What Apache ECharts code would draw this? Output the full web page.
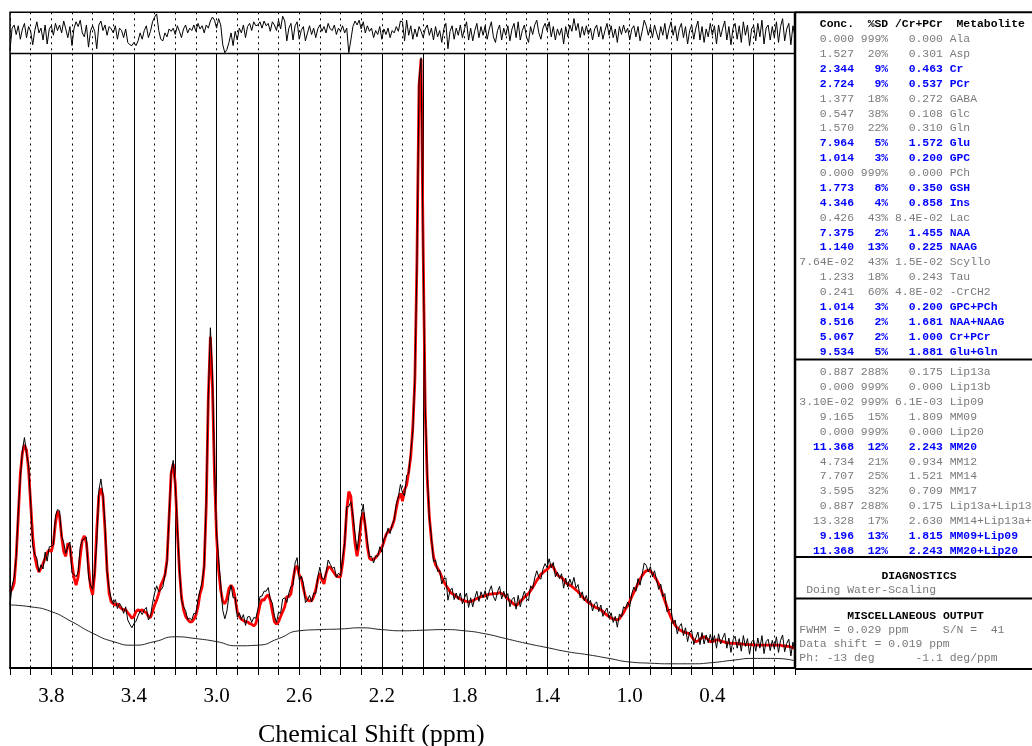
<!DOCTYPE html>
<html>
<head>
<meta charset="utf-8">
<script src="https://cdn.jsdelivr.net/npm/echarts/dist/echarts.min.js"></script>
<style>
html,body{margin:0;padding:0;background:#fff;}
#chart{width:1032px;height:746px;}
</style>
</head>
<body>
<div id="chart"></div>
<script>
// ---- spectrum sampling: 4.00 ppm down to 0.20 ppm in 0.01 ppm steps ----
const ppmHigh = 4.0;
const ppmStep = 0.01;

// LCModel fit (red), one value per 0.01 ppm
const fitValues = [
  12.7, 13.1, 14.1, 18.6, 25.2, 32.4, 35.8, 37.2, 36.3, 33.0,
  27.4, 21.9, 18.6, 16.9, 16.0, 16.6, 17.4, 18.3, 19.2, 19.7,
  19.4, 20.8, 24.1, 26.1, 25.2, 21.9, 19.4, 18.6, 20.8, 20.2,
  17.4, 15.0, 13.8, 15.2, 18.6, 21.3, 22.0, 20.8, 16.9, 13.5,
  12.2, 15.8, 23.0, 28.6, 30.0, 28.6, 23.0, 16.3, 12.4, 11.0,
  10.7, 10.5, 10.7, 10.2, 9.9, 9.7, 9.7, 9.2, 8.8, 8.3,
  8.6, 9.4, 9.7, 9.5, 9.7, 9.4, 9.2, 8.6, 8.4, 9.4,
  10.5, 11.3, 12.4, 13.8, 14.5, 15.5, 18.0, 25.0, 32.4, 34.0,
  30.8, 23.0, 16.3, 11.9, 9.7, 8.6, 8.1, 7.7, 7.7, 8.1,
  8.8, 10.2, 12.4, 13.5, 17.0, 27.0, 45.0, 55.2, 47.0, 32.0,
  21.9, 16.3, 13.0, 11.1, 10.7, 11.6, 13.3, 13.8, 13.3, 11.6,
  9.4, 8.6, 8.1, 7.9, 7.7, 7.7, 7.4, 7.3, 7.0, 7.4,
  8.8, 10.5, 11.4, 11.3, 11.9, 12.2, 11.3, 9.4, 7.7, 7.3,
  7.7, 8.6, 9.4, 10.2, 11.9, 11.9, 12.4, 14.7, 16.6, 17.0,
  15.5, 15.0, 13.3, 11.9, 11.3, 11.2, 11.2, 11.9, 13.0, 14.7,
  15.8, 14.7, 14.0, 15.8, 16.8, 16.8, 16.3, 15.8, 15.3, 15.2,
  15.2, 17.4, 20.8, 26.3, 29.4, 28.6, 24.7, 20.8, 18.6, 20.8,
  24.7, 25.9, 23.6, 20.2, 18.3, 18.0, 18.1, 18.4, 18.8, 19.4,
  20.1, 21.0, 22.2, 22.7, 23.0, 23.6, 24.7, 26.6, 28.3, 29.1,
  27.8, 29.7, 30.5, 32.7, 35.2, 40.2, 48.0, 68.0, 97.0, 101.5,
  70.0, 43.0, 31.3, 25.2, 21.3, 18.6, 17.2, 16.6, 16.0, 15.2,
  14.4, 13.8, 13.3, 12.7, 12.4, 12.2, 11.9, 11.7, 11.5, 11.3,
  11.2, 11.1, 11.0, 11.1, 11.2, 11.4, 11.6, 11.7, 11.9, 12.0,
  12.0, 12.2, 12.3, 12.3, 12.4, 12.4, 12.4, 12.6, 12.4, 12.2,
  11.9, 11.5, 11.2, 10.9, 10.6, 10.4, 10.7, 11.1, 11.4, 11.8,
  12.1, 12.4, 12.9, 13.4, 14.0, 14.6, 15.1, 15.6, 15.9, 16.2,
  16.4, 16.8, 17.2, 16.8, 16.1, 15.5, 15.2, 15.1, 14.7, 14.2,
  14.0, 13.8, 13.6, 13.3, 13.0, 12.7, 12.3, 11.9, 11.5, 11.2,
  10.9, 10.7, 10.4, 10.2, 10.0, 9.9, 9.7, 9.4, 9.1, 8.8,
  8.6, 8.3, 8.2, 8.1, 8.0, 8.2, 8.7, 9.2, 9.9, 10.4,
  11.1, 11.9, 12.6, 13.3, 14.1, 14.8, 15.4, 15.9, 16.2, 16.3,
  16.1, 15.8, 15.2, 14.7, 14.0, 13.2, 12.2, 11.2, 10.2, 9.2,
  8.4, 7.7, 7.1, 6.7, 6.4, 6.2, 6.0, 5.9, 5.8, 5.7,
  5.2, 4.7, 4.4, 4.5, 4.8, 5.1, 5.2, 5.0, 4.7, 4.4,
  4.4, 4.5, 4.7, 4.7, 4.5, 4.4, 4.3, 4.2, 4.2, 4.1,
  4.1, 4.1, 4.1, 4.0, 4.0, 4.0, 3.9, 3.9, 3.9, 3.9,
  3.8, 3.8, 3.8, 3.8, 3.8, 3.8, 3.8, 3.8, 3.8, 3.8,
  3.8, 3.8, 3.8, 3.8, 3.7, 3.7, 3.6, 3.6, 3.5, 3.4,
  3.3
];

// residual (data - fit), same sampling
const residValues = [
  -2.2, 0.6, 1.0, -0.2, 0.9, -0.8, 0.5, 1.2, -0.6, 0.8,
  0.2, -1.5, 0.3, 1.4, 0.0, 0.6, -0.9, 1.0, -1.4, 0.5,
  0.9, -0.3, 1.2, 0.3, 1.0, 0.0, 1.5, 0.5, -0.6, 0.8,
  -1.6, 0.6, 1.4, 0.8, 1.6, 0.0, -0.5, 1.0, -1.8, 0.3,
  0.9, 0.2, -2.0, 1.0, 1.5, 0.3, 1.0, -0.3, 0.8, 0.5,
  0.0, 0.9, -0.8, 0.6, 0.3, -0.6, 0.5, -1.2, -1.5, -1.6,
  -1.2, -1.6, -1.0, 0.0, -0.8, 0.3, 0.9, -0.6, 0.2, 1.4,
  2.0, 2.4, 0.3, -0.8, -1.0, 0.0, -0.5, 0.5, 0.2, 0.6,
  -0.2, 0.9, 0.2, -0.6, 0.5, 1.0, 0.0, 0.6, 0.3, 1.0,
  0.2, 1.2, 0.5, 0.9, 0.0, 1.0, 0.6, 1.5, 2.0, 1.6,
  0.6, 1.8, 1.0, -1.5, -2.5, -2.1, -1.2, 0.0, -1.6, 0.2,
  -0.9, 0.6, 0.0, 1.0, -0.6, 0.8, 1.2, 0.3, 1.4, 0.9,
  1.0, 1.4, 0.6, 1.5, 0.9, 1.2, 0.2, 1.4, 1.0, 0.3,
  1.6, 0.5, 2.1, 1.5, -1.0, 0.6, 1.2, -0.9, 0.9, 1.4,
  -0.8, 0.3, 0.8, -1.0, 0.0, 0.9, -0.2, 0.6, -0.6, 0.5,
  1.0, 0.2, 0.8, 0.0, 1.2, 0.5, 0.3, 1.0, -0.2, 0.6,
  0.2, 0.9, 0.0, 0.6, -2.5, -0.9, 0.8, 1.5, 1.0, 1.6,
  0.5, 1.4, 0.0, 0.9, 0.2, 0.6, -0.6, 0.3, -0.2, 0.8,
  -0.8, 0.5, -0.2, 0.6, -0.6, 0.3, 0.0, 0.8, 0.2, 1.5,
  1.4, -1.0, 1.6, -0.3, 0.9, -0.8, 0.5, -0.5, 0.8, 0.2,
  -0.6, 0.5, 1.0, -0.3, 0.6, -0.9, 0.8, -0.5, 0.3, -1.2,
  0.5, 1.2, -2.0, 0.2, 0.9, -0.8, 0.6, -0.3, 1.0, -0.6,
  0.5, 1.4, -0.9, 0.6, -1.0, 0.3, 1.2, -0.6, 0.8, -0.3,
  0.9, -0.8, 0.5, 1.4, -0.5, -1.2, 0.3, 1.0, -0.9, 0.6,
  -0.3, 0.9, -1.0, 0.5, 1.2, -0.6, 1.4, -0.9, 0.3, 1.0,
  -0.5, -1.2, 0.8, -0.2, 1.0, 1.6, 0.0, -0.8, 0.6, 1.2,
  0.3, 1.4, -0.5, 0.8, -0.9, 0.5, -0.3, 0.6, -1.4, 0.8,
  -0.5, 1.0, 0.2, 1.8, 0.3, 1.2, -0.6, 0.8, -0.3, 0.9,
  -0.2, 0.6, -0.9, 0.5, 1.0, -0.5, 0.8, -0.8, 0.3, 1.2,
  -0.3, 0.9, -0.6, 0.5, -1.2, 0.8, -0.2, 1.0, 0.0, 0.6,
  -0.9, 0.5, 0.9, -0.5, 0.8, -1.0, 0.2, 1.6, 0.9, -0.3,
  0.8, -0.6, 1.0, 0.0, -0.9, 0.8, -0.3, 1.2, -0.8, 0.5,
  1.4, -0.3, 0.9, -1.0, 0.5, 1.2, -0.6, 0.8, -1.4, 0.3,
  1.0, -0.8, 0.6, 1.5, -0.9, 0.8, -1.2, 0.5, -0.5, 1.2,
  -0.3, 0.9, -1.4, 1.0, -0.5, 0.6, 1.5, -0.9, 0.8, -1.5,
  0.6, 1.2, -0.8, 0.9, -1.2, 1.4, -0.3, 1.0, -1.6, 0.5,
  0.9, -1.0, 1.2, -0.5, 1.6, -1.4, 0.6, 1.0, -0.9, 0.8,
  -0.6, 1.4, -1.2, 0.8, 1.8, -1.0, 0.5, 1.2, -1.5, 0.9,
  -0.5
];

// smooth spline baseline, every 0.1 ppm
const baselinePpm = [4.0, 3.9, 3.8, 3.7, 3.6, 3.5, 3.4, 3.3, 3.2, 3.1, 3.0, 2.9, 2.8, 2.7, 2.6, 2.5, 2.4, 2.3, 2.2, 2.1,
                     2.0, 1.9, 1.8, 1.7, 1.6, 1.5, 1.4, 1.3, 1.2, 1.1, 1.0, 0.9, 0.8, 0.7, 0.6, 0.5, 0.4, 0.3, 0.2];
const baselineValues = [10.5, 10.2, 9.4, 7.7, 5.8, 4.4, 3.8, 4.4, 5.2, 4.9, 4.4, 3.7, 3.8, 4.9, 6.2, 6.4, 6.5, 6.7, 6.4, 6.2,
                        6.3, 6.4, 6.2, 5.7, 4.9, 4.1, 3.4, 2.7, 2.2, 1.6, 1.0, 0.8, 0.7, 0.7, 0.9, 1.3, 1.6, 1.6, 1.2];

// x axis tick labels
const tickValues = [3.8, 3.4, 3.0, 2.6, 2.2, 1.8, 1.4, 1.0, 0.6];
const tickTexts  = ['3.8', '3.4', '3.0', '2.6', '2.2', '1.8', '1.4', '1.0', '0.4'];

// ---- concentration table ----
const metNames = ['Ala','Asp','Cr','PCr','GABA','Glc','Gln','Glu','GPC','PCh','GSH','Ins','Lac','NAA','NAAG','Scyllo','Tau','-CrCH2','GPC+PCh','NAA+NAAG','Cr+PCr','Glu+Gln'];
const metConc  = ['0.000','1.527','2.344','2.724','1.377','0.547','1.570','7.964','1.014','0.000','1.773','4.346','0.426','7.375','1.140','7.64E-02','1.233','0.241','1.014','8.516','5.067','9.534'];
const metSD    = ['999%','20%','9%','9%','18%','38%','22%','5%','3%','999%','8%','4%','43%','2%','13%','43%','18%','60%','3%','2%','2%','5%'];
const metRatio = ['0.000','0.301','0.463','0.537','0.272','0.108','0.310','1.572','0.200','0.000','0.350','0.858','8.4E-02','1.455','0.225','1.5E-02','0.243','4.8E-02','0.200','1.681','1.000','1.881'];
const metBlue  = ['Cr','PCr','Glu','GPC','GSH','Ins','NAA','NAAG','GPC+PCh','NAA+NAAG','Cr+PCr','Glu+Gln'];

const lipNames = ['Lip13a','Lip13b','Lip09','MM09','Lip20','MM20','MM12','MM14','MM17','Lip13a+Lip13b','MM14+Lip13a+Lip13b','MM09+Lip09','MM20+Lip20'];
const lipConc  = ['0.887','0.000','3.10E-02','9.165','0.000','11.368','4.734','7.707','3.595','0.887','13.328','9.196','11.368'];
const lipSD    = ['288%','999%','999%','15%','999%','12%','21%','25%','32%','288%','17%','13%','12%'];
const lipRatio = ['0.175','0.000','6.1E-03','1.809','0.000','2.243','0.934','1.521','0.709','0.175','2.630','1.815','2.243'];
const lipBlue  = ['MM20','MM09+Lip09','MM20+Lip20'];

const tableHeader = '   Conc.  %SD /Cr+PCr  Metabolite';
const diagLines = ['Doing Water-Scaling'];
const miscLines = ['FWHM = 0.029 ppm     S/N =  41', 'Data shift = 0.019 ppm', 'Ph: -13 deg      -1.1 deg/ppm'];

// ---- build series data ----
const ppmAt = i => Math.round((ppmHigh - ppmStep * i) * 100) / 100;
const fitData = fitValues.map((v, i) => [ppmAt(i), v]);
const specData = fitValues.map((v, i) => [ppmAt(i), Math.round((v + residValues[i]) * 100) / 100]);
const residData = residValues.map((v, i) => [ppmAt(i), v]);
const baseData = baselinePpm.map((p, i) => [p, baselineValues[i]]);

// ---- layout ----
const L = 10, R = 795, TOP = 12.3, MID = 53.5, AXIS = 668;
const MONO = "'Liberation Mono','Courier New',monospace";
const SERIF = "'Liberation Serif','Times New Roman',serif";
const FS = 11.4;
const TX = 799.3;              // first column of the table
const GRAY = '#7a7a7a', BLUE = '#0000ff';

const pad = (s, n) => (' '.repeat(n) + s).slice(-Math.max(n, s.length));
const row = (c, sd, r, name) => pad(c, 8) + ' ' + pad(sd, 4) + ' ' + pad(r, 7) + ' ' + name;

function textEl(str, x, y, bold, color) {
  return {
    type: 'text', z: 100, silent: true,
    style: {
      text: str, x: x, y: y,
      font: (bold ? 'bold ' : '') + FS + 'px ' + MONO,
      fill: color, textVerticalAlign: 'middle', verticalAlign: 'middle'
    }
  };
}
function lineEl(x1, y1, x2, y2, w) {
  return { type: 'line', z: 90, silent: true,
    shape: { x1: x1, y1: y1, x2: x2, y2: y2 },
    style: { stroke: '#000', lineWidth: w } };
}

const graphics = [];
// frames
graphics.push({ type: 'rect', z: 90, silent: true, shape: { x: L, y: TOP, width: R - L, height: AXIS - TOP },
  style: { fill: 'none', stroke: '#000', lineWidth: 1.5 } });
graphics.push(lineEl(L, MID, R, MID, 1.5));
graphics.push(lineEl(R, TOP, 1032, TOP, 2));
graphics.push(lineEl(R, TOP, R, 669, 2.5));
graphics.push(lineEl(R, 359.5, 1032, 359.5, 2));
graphics.push(lineEl(R, 557, 1032, 557, 2));
graphics.push(lineEl(R, 598.5, 1032, 598.5, 2));
graphics.push(lineEl(R, 669, 1032, 669, 2));

// table text
const cw = FS * 0.6;
graphics.push(textEl(tableHeader, TX, 24.3, true, '#000'));
metNames.forEach((n, k) => {
  const blue = metBlue.indexOf(n) >= 0;
  graphics.push(textEl(row(metConc[k], metSD[k], metRatio[k], n), TX, 39.2 + 14.88 * k, blue, blue ? BLUE : GRAY));
});
lipNames.forEach((n, k) => {
  const blue = lipBlue.indexOf(n) >= 0;
  graphics.push(textEl(row(lipConc[k], lipSD[k], lipRatio[k], n), TX, 372.3 + 14.87 * k, blue, blue ? BLUE : GRAY));
});
graphics.push(textEl('DIAGNOSTICS', TX + 12 * cw, 575.7, true, '#000'));
diagLines.forEach((t, k) => graphics.push(textEl(t, TX + cw, 590 + 14.9 * k, false, GRAY)));
graphics.push(textEl('MISCELLANEOUS OUTPUT', TX + 7 * cw, 616, true, '#000'));
miscLines.forEach((t, k) => graphics.push(textEl(t, TX, 630 + 14.2 * k, false, GRAY)));

// axis title
graphics.push({ type: 'text', z: 100, silent: true,
  style: { text: 'Chemical Shift (ppm)', x: 258, y: 735, font: '26px ' + SERIF, fill: '#000',
           textVerticalAlign: 'middle', verticalAlign: 'middle' } });

const chart = echarts.init(document.getElementById('chart'), null, { renderer: 'canvas' });
chart.setOption({
  animation: false,
  backgroundColor: '#fff',
  grid: [
    { left: L, top: MID, width: R - L, height: AXIS - MID, containLabel: false },
    { left: L, top: TOP, width: R - L, height: MID - TOP, containLabel: false }
  ],
  xAxis: [
    { // labelled axis with 0.1 ppm dotted grid
      gridIndex: 0, type: 'value', min: 0.2, max: 4.0, interval: 0.1, inverse: true, position: 'bottom',
      axisLine: { show: true, onZero: false, lineStyle: { color: '#000', width: 2 } },
      axisTick: { show: true, length: 7, lineStyle: { color: '#000', width: 1 } },
      axisLabel: {
        show: true, margin: 18, color: '#000', fontFamily: SERIF, fontSize: 21,
        showMinLabel: true, showMaxLabel: true,
        formatter: v => {
          const k = tickValues.findIndex(t => Math.abs(t - v) < 1e-6);
          return k >= 0 ? tickTexts[k] : '';
        }
      },
      splitLine: { show: true, lineStyle: { color: '#000', width: 1, type: [2, 4] } }
    },
    { // solid grid every 0.2 ppm
      gridIndex: 0, type: 'value', min: 0.2, max: 4.0, interval: 0.2, inverse: true, position: 'bottom',
      axisLine: { show: false }, axisTick: { show: false }, axisLabel: { show: false },
      splitLine: { show: true, lineStyle: { color: '#000', width: 1, type: 'solid' } }
    },
    { // residual panel grid
      gridIndex: 1, type: 'value', min: 0.2, max: 4.0, interval: 0.1, inverse: true,
      axisLine: { show: false }, axisTick: { show: false }, axisLabel: { show: false },
      splitLine: { show: true, lineStyle: { color: '#000', width: 1, type: [2, 4] } }
    }
  ],
  yAxis: [
    { gridIndex: 0, type: 'value', min: 0, max: 102.4, show: false },
    { gridIndex: 1, type: 'value', min: -2.6, max: 2.6, show: false }
  ],
  series: [
    { name: 'baseline', type: 'line', xAxisIndex: 0, yAxisIndex: 0, data: baseData, smooth: 0.6,
      symbol: 'none', lineStyle: { color: '#222', width: 1 }, z: 3 },
    { name: 'fit', type: 'line', xAxisIndex: 0, yAxisIndex: 0, data: fitData,
      symbol: 'none', lineStyle: { color: '#ff0000', width: 2.8 }, z: 4 },
    { name: 'data', type: 'line', xAxisIndex: 0, yAxisIndex: 0, data: specData,
      symbol: 'none', lineStyle: { color: '#000', width: 1 }, z: 5 },
    { name: 'residual', type: 'line', xAxisIndex: 2, yAxisIndex: 1, data: residData,
      symbol: 'none', lineStyle: { color: '#000', width: 1 }, z: 5 }
  ],
  graphic: graphics
});
</script>
</body>
</html>
